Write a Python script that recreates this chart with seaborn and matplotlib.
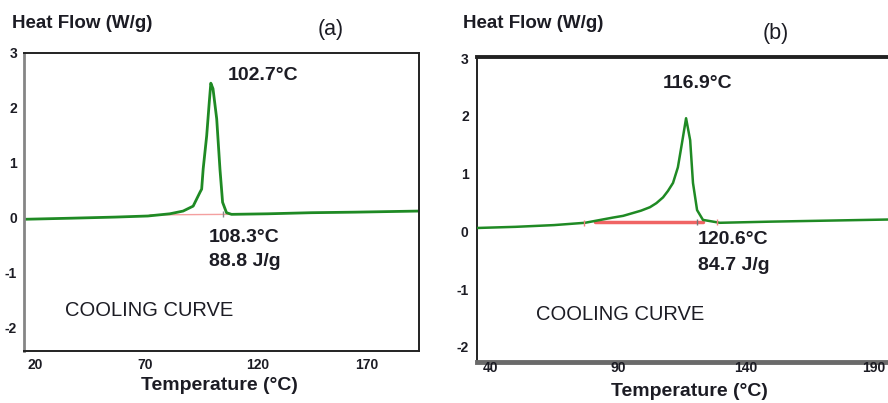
import matplotlib
matplotlib.use("Agg")
import matplotlib.pyplot as plt
import seaborn as sns
import pandas as pd
from matplotlib.ticker import MultipleLocator

sns.set_style("white")
plt.rcParams['font.family'] = ['Liberation Sans', 'DejaVu Sans']

# ---- data (a) ----
a_temp = [18.2, 40, 60, 75, 85.1, 91.2, 95.8, 98.9, 99.7, 100.4, 102.0, 103.2, 103.9,
          104.9, 106.6, 108.1, 109.3, 111.1, 113.4, 130, 150, 170, 199.4]
a_flow = [-0.03, -0.01, 0.01, 0.03, 0.07, 0.12, 0.21, 0.46, 0.52, 0.89, 1.49, 2.11, 2.45,
          2.35, 1.80, 0.88, 0.28, 0.09, 0.06, 0.07, 0.09, 0.10, 0.12]
a_base_temp = [76.0, 112.7]
a_base_flow = [0.05, 0.06]
a_onset = (109.4, 0.06)
a_xticks = [20, 70, 120, 170]

# ---- data (b) ----
b_temp = [34.9, 50, 65, 77.1, 88.0, 92.0, 95.9, 99.0, 102.5, 105.0, 107.6, 109.5, 111.5,
          113.4, 115.0, 116.6, 118.2, 119.3, 120.9, 123.2, 129.8, 150, 175, 200]
b_flow = [0.06, 0.08, 0.11, 0.15, 0.24, 0.27, 0.32, 0.36, 0.42, 0.49, 0.59, 0.70, 0.84,
          1.11, 1.53, 1.96, 1.58, 0.84, 0.37, 0.20, 0.15, 0.17, 0.19, 0.21]
b_base_temp = [81.0, 123.2]
b_base_flow = [0.16, 0.16]
b_limits_temp = [76.6, 128.6]
b_limits_flow = [0.15, 0.16]
b_onset = (120.9, 0.16)
b_xticks = [40, 90, 140, 190]

yticks = [3, 2, 1, 0, -1, -2]

GREEN = '#1f8a24'
TXT = '#1c1c24'

fig = plt.figure(figsize=(8.88, 4.03), dpi=100)
W, H = 888, 403

def ax_at(l, t, r, b):
    return fig.add_axes([l / W, 1 - b / H, (r - l) / W, (b - t) / H])

ax1 = ax_at(24, 53, 419, 351)
ax2 = ax_at(477, 57, 900, 362)

dfa = pd.DataFrame({'T': a_temp, 'HF': a_flow})
dfb = pd.DataFrame({'T': b_temp, 'HF': b_flow})

sns.lineplot(data=pd.DataFrame({'T': a_base_temp, 'HF': a_base_flow}), x='T', y='HF',
             ax=ax1, color='#f4a0a0', lw=1.0, sort=False)
sns.lineplot(data=dfa, x='T', y='HF', ax=ax1, color=GREEN, lw=2.0, sort=False)
ax1.plot([a_onset[0]], [a_onset[1]], marker='|', color='#888888', ms=5)

sns.lineplot(data=pd.DataFrame({'T': b_base_temp, 'HF': b_base_flow}), x='T', y='HF',
             ax=ax2, color='#f06464', lw=2.5, sort=False)
sns.lineplot(data=dfb, x='T', y='HF', ax=ax2, color=GREEN, lw=1.8, sort=False)
ax2.plot(b_limits_temp, b_limits_flow, ls='none', marker='|', color='#f08080', ms=5)
ax2.plot([b_onset[0]], [b_onset[1]], marker='|', color='#777777', ms=5)

ax1.set_xlim(18.2, 199.4)
ax1.set_ylim(-2.43, 3.0)
ax2.set_xlim(34.9, 200.2)
ax2.set_ylim(-2.26, 3.02)

for ax, xt in ((ax1, a_xticks), (ax2, b_xticks)):
    ax.set_axisbelow(False)
    ax.set_xlabel('')
    ax.set_ylabel('')
    ax.set_xticks(xt)
    ax.set_xticklabels([str(v) for v in xt])
    ax.set_yticks(yticks)
    ax.set_yticklabels([str(v) for v in yticks])
    ax.tick_params(axis='both', which='major', length=2, width=0.8, color='#555555',
                   labelsize=10, labelcolor=TXT)
    ax.tick_params(axis='both', which='minor', length=2, width=0.6, color='#999999')
    for lab in ax.get_xticklabels() + ax.get_yticklabels():
        lab.set_fontweight('bold')
    ax.yaxis.set_minor_locator(MultipleLocator(0.5))

ax1.xaxis.set_minor_locator(MultipleLocator(10))
ax2.xaxis.set_minor_locator(MultipleLocator(25))
ax1.tick_params(axis='x', pad=3)
ax1.tick_params(axis='y', pad=3)
for lab in ax1.get_xticklabels():
    lab.set_horizontalalignment('left')
ax2.tick_params(axis='x', pad=-3)
ax2.tick_params(axis='y', pad=4)

for s in ax1.spines.values():
    s.set_color('#222222')
    s.set_linewidth(1.4)
ax1.spines['left'].set_linewidth(2.0)
ax1.spines['left'].set_color('#858585')

for s in ax2.spines.values():
    s.set_color('#222222')
    s.set_linewidth(1.4)
    s.set_zorder(1)
ax2.spines['top'].set_linewidth(2.8)
ax2.spines['bottom'].set_linewidth(3.5)
ax2.spines['bottom'].set_color('#6a6a6a')

def ftext(x, y, s, **kw):
    fig.text(x / W, 1 - y / H, s, color=TXT, va='center', **kw)

# panel (a) texts
ftext(12, 23, 'Heat Flow (W/g)', fontsize=13.5, fontweight='bold', ha='left')
ftext(331, 30, '(a)', fontsize=15.5, ha='center')
ftext(228, 75, '102.7°C', fontsize=14, fontweight='bold', ha='left')
ftext(209, 238, '108.3°C', fontsize=14, fontweight='bold', ha='left')
ftext(209, 262, '88.8 J/g', fontsize=14, fontweight='bold', ha='left')
ftext(65, 310, 'COOLING CURVE', fontsize=14.5, ha='left')
ftext(219, 386, 'Temperature (°C)', fontsize=14, fontweight='bold', ha='center')

# panel (b) texts
ftext(463, 24, 'Heat Flow (W/g)', fontsize=13.5, fontweight='bold', ha='left')
ftext(776, 33, '(b)', fontsize=15.5, ha='center')
ftext(663, 83, '116.9°C', fontsize=14, fontweight='bold', ha='left')
ftext(698, 240, '120.6°C', fontsize=14, fontweight='bold', ha='left')
ftext(698, 265, '84.7 J/g', fontsize=14, fontweight='bold', ha='left')
ftext(536, 315, 'COOLING CURVE', fontsize=14.5, ha='left')
ftext(689, 392, 'Temperature (°C)', fontsize=14, fontweight='bold', ha='center')

fig.savefig('out.png', dpi=100)
